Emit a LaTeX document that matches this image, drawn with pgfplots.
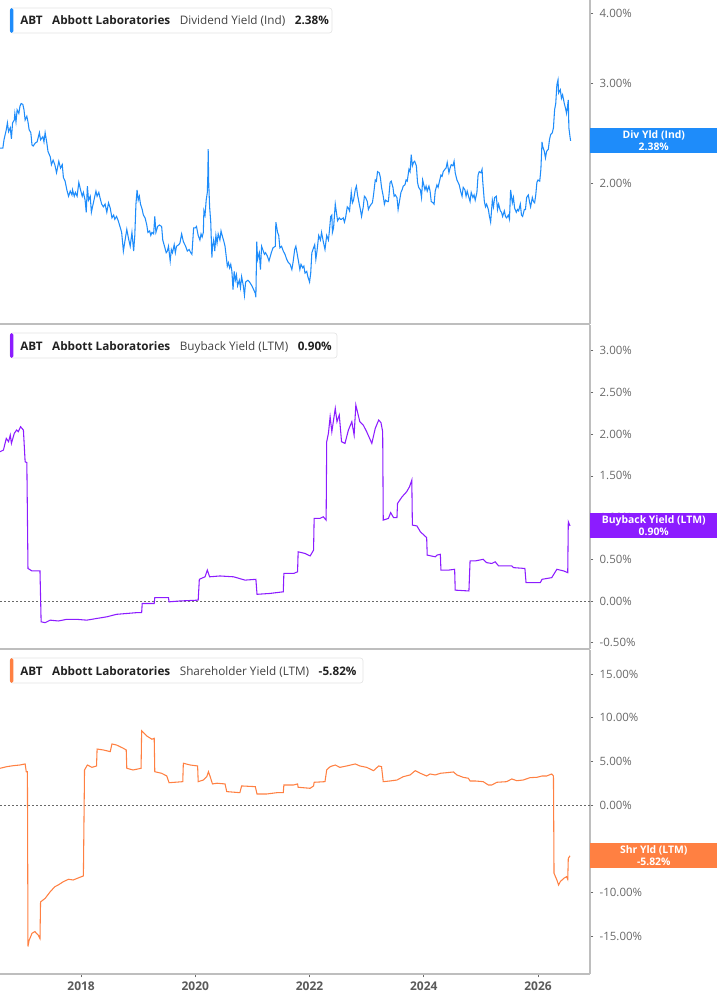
\documentclass[border=0pt]{standalone}
\usepackage{fontspec}
\setmainfont{Open Sans}
\usepackage{pgfplots}
\usepackage{pgfplotstable}
\pgfplotsset{compat=1.18}

\definecolor{axgray}{RGB}{190,190,190}
\definecolor{tickgray}{RGB}{105,105,105}
\definecolor{yeargray}{RGB}{90,90,90}
\definecolor{divblue}{RGB}{30,140,250}
\definecolor{bbpurple}{RGB}{140,28,255}
\definecolor{shorange}{RGB}{255,128,66}
\definecolor{txtdark}{RGB}{34,34,34}
\definecolor{boxgray}{RGB}{228,228,228}

% dividend yield (Ind), %
\pgfplotstableread{
year yld
2016.58 2.31
2016.63 2.31
2016.65 2.39
2016.69 2.49
2016.71 2.56
2016.73 2.47
2016.76 2.51
2016.78 2.40
2016.80 2.56
2016.83 2.59
2016.84 2.66
2016.86 2.57
2016.88 2.70
2016.91 2.66
2016.93 2.74
2016.95 2.77
2016.98 2.76
2017.00 2.70
2017.02 2.59
2017.05 2.63
2017.07 2.57
2017.09 2.49
2017.12 2.46
2017.14 2.34
2017.16 2.33
2017.20 2.36
2017.23 2.37
2017.27 2.46
2017.29 2.39
2017.33 2.42
2017.35 2.37
2017.37 2.46
2017.40 2.36
2017.42 2.28
2017.46 2.23
2017.48 2.16
2017.51 2.20
2017.54 2.16
2017.57 2.09
2017.61 2.19
2017.64 2.13
2017.67 2.16
2017.69 2.05
2017.72 2.02
2017.75 1.95
2017.78 1.90
2017.81 1.94
2017.84 1.91
2017.85 1.95
2017.88 1.90
2017.90 1.93
2017.93 1.90
2017.96 2.01
2017.99 1.95
2018.02 1.90
2018.04 1.93
2018.07 1.87
2018.09 1.78
2018.11 1.98
2018.13 1.87
2018.16 1.90
2018.18 1.78
2018.20 1.82
2018.24 1.90
2018.26 1.94
2018.28 1.90
2018.31 1.93
2018.33 1.89
2018.36 1.84
2018.39 1.82
2018.42 1.84
2018.45 1.78
2018.48 1.85
2018.51 1.81
2018.54 1.74
2018.57 1.76
2018.59 1.73
2018.62 1.75
2018.65 1.72
2018.68 1.68
2018.71 1.64
2018.74 1.52
2018.77 1.59
2018.80 1.66
2018.83 1.60
2018.86 1.55
2018.89 1.64
2018.92 1.52
2018.94 1.62
2018.96 1.84
2018.98 1.95
2019.00 1.87
2019.02 1.90
2019.04 1.84
2019.07 1.80
2019.09 1.76
2019.12 1.74
2019.15 1.69
2019.17 1.64
2019.20 1.65
2019.22 1.62
2019.24 1.64
2019.27 1.63
2019.29 1.75
2019.31 1.64
2019.34 1.68
2019.37 1.69
2019.41 1.68
2019.43 1.59
2019.46 1.55
2019.49 1.51
2019.51 1.52
2019.53 1.55
2019.56 1.46
2019.58 1.53
2019.60 1.51
2019.63 1.56
2019.65 1.51
2019.67 1.55
2019.71 1.56
2019.73 1.57
2019.76 1.63
2019.79 1.58
2019.83 1.55
2019.86 1.52
2019.89 1.53
2019.92 1.51
2019.94 1.50
2019.97 1.67
2020.00 1.67
2020.02 1.68
2020.05 1.62
2020.08 1.59
2020.10 1.63
2020.12 1.61
2020.14 1.64
2020.15 1.79
2020.17 1.76
2020.19 1.87
2020.21 1.93
2020.22 2.09
2020.225 2.30
2020.234 2.01
2020.25 1.82
2020.27 1.71
2020.29 1.48
2020.30 1.55
2020.32 1.59
2020.34 1.52
2020.36 1.62
2020.38 1.57
2020.40 1.63
2020.43 1.59
2020.45 1.65
2020.47 1.62
2020.50 1.58
2020.52 1.55
2020.54 1.49
2020.56 1.43
2020.58 1.45
2020.60 1.42
2020.62 1.44
2020.64 1.40
2020.66 1.30
2020.68 1.40
2020.70 1.35
2020.72 1.38
2020.74 1.32
2020.77 1.35
2020.79 1.31
2020.81 1.37
2020.84 1.32
2020.86 1.27
2020.88 1.34
2020.92 1.35
2020.95 1.34
2020.99 1.32
2021.02 1.30
2021.05 1.28
2021.06 1.26
2021.075 1.58
2021.09 1.47
2021.12 1.51
2021.14 1.41
2021.16 1.55
2021.19 1.52
2021.21 1.50
2021.23 1.51
2021.26 1.49
2021.29 1.46
2021.33 1.51
2021.36 1.54
2021.40 1.55
2021.41 1.71
2021.44 1.64
2021.46 1.62
2021.48 1.54
2021.51 1.55
2021.54 1.52
2021.57 1.50
2021.60 1.47
2021.63 1.45
2021.66 1.44
2021.69 1.41
2021.71 1.45
2021.74 1.53
2021.76 1.55
2021.78 1.51
2021.81 1.45
2021.83 1.41
2021.85 1.44
2021.88 1.42
2021.90 1.43
2021.92 1.39
2021.95 1.40
2021.97 1.37
2022.00 1.34
2022.02 1.39
2022.04 1.51
2022.06 1.53
2022.09 1.56
2022.11 1.47
2022.13 1.52
2022.16 1.62
2022.19 1.59
2022.21 1.64
2022.24 1.58
2022.27 1.53
2022.30 1.62
2022.33 1.59
2022.35 1.66
2022.37 1.75
2022.39 1.76
2022.40 1.64
2022.42 1.67
2022.45 1.84
2022.47 1.78
2022.49 1.72
2022.52 1.74
2022.54 1.73
2022.56 1.73
2022.59 1.74
2022.61 1.71
2022.63 1.74
2022.66 1.82
2022.68 1.81
2022.70 1.79
2022.73 1.93
2022.75 1.85
2022.77 1.87
2022.80 1.95
2022.82 1.98
2022.84 1.91
2022.87 1.84
2022.89 1.80
2022.91 1.75
2022.94 1.82
2022.96 1.90
2022.98 1.89
2023.01 1.86
2023.03 1.80
2023.05 1.82
2023.08 1.84
2023.10 1.85
2023.12 1.91
2023.15 2.03
2023.17 2.02
2023.19 2.10
2023.22 2.09
2023.24 2.05
2023.26 1.97
2023.29 1.90
2023.31 1.84
2023.33 1.87
2023.36 1.86
2023.38 1.86
2023.41 2.01
2023.43 2.02
2023.46 1.97
2023.48 1.90
2023.50 1.91
2023.53 1.89
2023.55 1.80
2023.57 1.85
2023.60 1.93
2023.62 1.95
2023.64 1.98
2023.67 1.99
2023.69 2.03
2023.71 2.02
2023.74 2.12
2023.76 2.10
2023.78 2.25
2023.80 2.15
2023.82 2.18
2023.84 2.19
2023.87 2.15
2023.89 2.01
2023.91 1.97
2023.94 1.95
2023.96 1.89
2023.98 2.03
2023.99 2.01
2024.02 1.95
2024.04 1.98
2024.06 1.94
2024.09 1.98
2024.11 1.94
2024.13 1.86
2024.16 1.85
2024.18 1.84
2024.20 1.94
2024.23 1.99
2024.25 1.97
2024.27 2.01
2024.30 2.07
2024.32 2.06
2024.34 2.10
2024.37 2.12
2024.39 2.13
2024.41 2.18
2024.44 2.09
2024.46 2.13
2024.48 2.16
2024.51 2.15
2024.53 2.19
2024.55 2.09
2024.58 2.03
2024.60 2.01
2024.62 1.99
2024.65 1.93
2024.67 1.90
2024.69 1.97
2024.72 1.95
2024.74 1.90
2024.76 1.94
2024.79 1.89
2024.81 1.86
2024.83 1.93
2024.86 1.89
2024.88 1.91
2024.90 1.87
2024.93 1.93
2024.95 2.07
2024.97 2.10
2025.00 2.09
2025.02 2.12
2025.03 2.03
2025.06 1.86
2025.08 1.82
2025.10 1.84
2025.13 1.80
2025.15 1.75
2025.17 1.71
2025.20 1.87
2025.22 1.82
2025.24 1.89
2025.27 1.90
2025.29 1.80
2025.31 1.84
2025.34 1.79
2025.36 1.78
2025.38 1.75
2025.41 1.79
2025.43 1.75
2025.45 1.74
2025.48 1.76
2025.50 1.73
2025.52 1.95
2025.55 1.85
2025.57 1.89
2025.59 1.81
2025.62 1.78
2025.64 1.80
2025.66 1.79
2025.69 1.84
2025.71 1.76
2025.73 1.75
2025.76 1.80
2025.78 1.80
2025.80 1.89
2025.83 1.91
2025.85 1.86
2025.87 1.82
2025.90 1.89
2025.92 1.86
2025.94 1.85
2025.96 1.91
2025.98 2.01
2026.00 2.03
2026.03 2.02
2026.05 2.12
2026.07 2.37
2026.08 2.33
2026.11 2.28
2026.13 2.22
2026.15 2.28
2026.18 2.30
2026.20 2.39
2026.22 2.44
2026.25 2.46
2026.27 2.51
2026.29 2.70
2026.31 2.77
2026.33 2.99
2026.35 3.05
2026.36 2.89
2026.39 2.93
2026.41 2.83
2026.43 2.87
2026.46 2.77
2026.48 2.72
2026.50 2.66
2026.53 2.81
2026.54 2.51
2026.56 2.42
2026.57 2.38
}\divtable

% buyback yield (LTM), %
\pgfplotstableread{
year yld
2016.58 1.79
2016.64 1.81
2016.69 1.95
2016.73 1.91
2016.76 1.99
2016.78 1.89
2016.83 2.01
2016.87 2.05
2016.90 2.03
2016.94 2.09
2016.99 2.05
2017.02 1.67
2017.05 1.66
2017.07 0.39
2017.14 0.36
2017.28 0.36
2017.30 -0.25
2017.37 -0.26
2017.46 -0.23
2017.60 -0.24
2017.75 -0.22
2017.92 -0.22
2018.10 -0.23
2018.27 -0.21
2018.45 -0.19
2018.62 -0.16
2018.80 -0.15
2018.97 -0.14
2019.06 -0.14
2019.07 -0.03
2019.28 -0.03
2019.29 0.04
2019.53 0.04
2019.54 -0.01
2019.73 0.00
2020.05 0.01
2020.07 0.26
2020.17 0.29
2020.21 0.37
2020.25 0.29
2020.43 0.30
2020.67 0.29
2020.87 0.25
2021.06 0.26
2021.08 0.08
2021.30 0.09
2021.54 0.11
2021.55 0.33
2021.72 0.33
2021.79 0.35
2021.80 0.59
2021.92 0.57
2022.01 0.54
2022.07 0.61
2022.08 0.99
2022.18 0.99
2022.24 1.01
2022.29 0.97
2022.30 1.91
2022.33 2.01
2022.36 2.21
2022.39 2.03
2022.45 2.31
2022.48 2.15
2022.52 2.23
2022.56 1.91
2022.62 1.89
2022.68 2.05
2022.74 2.15
2022.78 1.99
2022.81 2.35
2022.88 2.15
2022.94 2.11
2023.00 2.03
2023.09 1.89
2023.15 2.07
2023.21 2.17
2023.25 2.14
2023.28 2.03
2023.29 0.97
2023.38 0.99
2023.42 1.06
2023.47 1.00
2023.53 1.00
2023.54 1.17
2023.62 1.25
2023.70 1.31
2023.75 1.37
2023.79 1.45
2023.80 0.91
2023.88 0.90
2023.94 0.83
2024.05 0.76
2024.06 0.55
2024.20 0.53
2024.23 0.55
2024.29 0.56
2024.30 0.37
2024.43 0.37
2024.54 0.38
2024.55 0.13
2024.79 0.12
2024.81 0.48
2024.90 0.48
2025.04 0.50
2025.10 0.46
2025.19 0.45
2025.25 0.47
2025.31 0.42
2025.54 0.42
2025.57 0.40
2025.77 0.39
2025.79 0.22
2026.04 0.22
2026.07 0.26
2026.24 0.28
2026.33 0.38
2026.45 0.36
2026.52 0.34
2026.53 0.95
2026.56 0.90
}\bbtable

% shareholder yield (LTM), %
\pgfplotstableread{
year yld
2016.58 4.20
2016.70 4.39
2016.81 4.50
2016.93 4.58
2017.02 4.70
2017.04 3.81
2017.06 3.81
2017.07 -16.2
2017.09 -15.5
2017.14 -14.7
2017.19 -14.5
2017.25 -14.9
2017.28 -15.3
2017.29 -11.1
2017.37 -10.7
2017.46 -9.93
2017.54 -9.36
2017.60 -9.16
2017.69 -8.78
2017.78 -8.51
2017.86 -8.59
2017.98 -8.28
2018.04 -8.13
2018.06 4.01
2018.11 4.58
2018.19 4.31
2018.27 4.47
2018.28 6.41
2018.39 6.30
2018.51 6.11
2018.54 6.99
2018.62 6.87
2018.74 6.49
2018.79 6.30
2018.80 4.20
2018.91 4.01
2019.05 4.20
2019.06 8.51
2019.15 7.90
2019.24 7.53
2019.28 7.64
2019.29 3.81
2019.41 3.63
2019.50 3.32
2019.54 2.55
2019.78 2.67
2019.79 4.78
2019.91 4.58
2020.04 4.47
2020.05 2.67
2020.14 2.86
2020.20 3.24
2020.23 3.81
2020.26 3.24
2020.30 2.41
2020.38 2.49
2020.52 2.41
2020.55 1.53
2020.78 1.41
2020.81 2.18
2021.05 2.10
2021.08 1.26
2021.25 1.26
2021.43 1.41
2021.54 1.41
2021.55 2.29
2021.72 2.29
2021.79 2.41
2021.80 2.03
2022.01 1.91
2022.07 2.18
2022.08 2.60
2022.27 2.67
2022.30 4.01
2022.36 4.39
2022.45 4.58
2022.53 4.31
2022.65 4.47
2022.80 4.70
2022.88 4.47
2023.00 4.31
2023.12 3.93
2023.21 4.47
2023.26 4.39
2023.29 2.67
2023.41 2.75
2023.53 2.86
2023.64 3.24
2023.76 3.44
2023.85 3.93
2023.94 3.63
2024.05 3.32
2024.11 3.55
2024.20 3.44
2024.29 3.63
2024.40 3.70
2024.52 3.78
2024.58 3.44
2024.69 3.17
2024.78 3.06
2024.81 2.75
2024.90 2.75
2025.04 2.67
2025.13 2.29
2025.19 2.29
2025.28 2.60
2025.45 2.67
2025.54 2.98
2025.63 2.78
2025.74 2.86
2025.86 3.13
2025.98 3.17
2026.07 3.32
2026.15 3.32
2026.24 3.55
2026.27 3.32
2026.28 -7.82
2026.33 -8.59
2026.36 -9.16
2026.39 -8.78
2026.45 -8.40
2026.50 -8.21
2026.52 -8.51
2026.53 -6.11
2026.56 -5.82
}\shtable

\pgfplotsset{
  panel/.style={
    scale only axis, width=442.5pt, height=243pt,
    anchor=north west,
    xmin=2016.58, xmax=2026.91,
    axis x line*=bottom, axis y line*=right,
    axis line style={-, axgray, line width=1pt},
    xtick=\empty,
    tick align=outside,
    major tick length=2.5pt,
    tick style={tickgray, line width=0.6pt},
    yticklabel style={font=\fontsize{8.6}{10}\selectfont, text=tickgray, xshift=1.2pt},
    /pgf/number format/assume math mode=true,
  },
  zeroline/.style={tickgray, line width=0.6pt, dash pattern=on 1.5pt off 1.5pt},
}

\begin{document}
\begin{tikzpicture}
\useasboundingbox (0,0) rectangle (537.75pt,-753.75pt);

% ---- dividend yield (log scale)
\begin{axis}[panel, at={(0,0)},
    ymode=log, ymin=1.13, ymax=4.22,
    ytick={2,3,4}, yticklabels={2.00\%,3.00\%,4.00\%},
]
\addplot[divblue, line width=0.8pt] table[x=year, y=yld] {\divtable};
\coordinate (e1) at (rel axis cs:1,0);
\coordinate (v1) at (axis cs:2026.57,2.38);
\end{axis}

% ---- buyback yield
\begin{axis}[panel, at={(0,-243.75pt)},
    ymin=-0.576, ymax=3.31,
    ytick={-0.5,0,0.5,1,1.5,2,2.5,3},
    yticklabels={-0.50\%,0.00\%,0.50\%,1.00\%,1.50\%,2.00\%,2.50\%,3.00\%},
]
\addplot[zeroline] coordinates {(2016.58,0) (2026.91,0)};
\addplot[bbpurple, line width=0.8pt] table[x=year, y=yld] {\bbtable};
\coordinate (e2) at (rel axis cs:1,0);
\coordinate (v2) at (axis cs:2026.56,0.90);
\end{axis}

% ---- shareholder yield
\begin{axis}[panel, at={(0,-487.5pt)},
    ymin=-19.36, ymax=17.75,
    ytick={-15,-10,-5,0,5,10,15},
    yticklabels={-15.00\%,-10.00\%,-5.00\%,0.00\%,5.00\%,10.00\%,15.00\%},
    xtick={2018,2020,2022,2024,2026},
    xticklabels={2018,2020,2022,2024,2026},
    xticklabel style={font=\bfseries\fontsize{9}{10}\selectfont, text=yeargray},
]
\addplot[zeroline] coordinates {(2016.58,0) (2026.91,0)};
\addplot[shorange, line width=0.8pt] table[x=year, y=yld] {\shtable};
\coordinate (e3) at (rel axis cs:1,0);
\coordinate (v3) at (axis cs:2026.56,-5.82);
\end{axis}

% ---- value tags on the right axis
\tikzset{tag/.style={anchor=west, inner sep=0pt, minimum width=95.25pt, minimum height=18.75pt,
  text=white, align=center, font=\bfseries\fontsize{7.8}{8.8}\selectfont}}
\node[tag, fill=divblue] at (e1 |- v1) {Div Yld (Ind)\\2.38\%};
\node[tag, fill=bbpurple] at (e2 |- v2) {Buyback Yield (LTM)\\0.90\%};
\node[tag, fill=shorange] at (e3 |- v3) {Shr Yld (LTM)\\-5.82\%};

% ---- header boxes, in pixels from the top left
\begin{scope}[x=0.75pt, y=-0.75pt,
  lb/.style={anchor=base west, inner sep=0pt, text=txtdark, font=\bfseries\fontsize{8.8}{10}\selectfont},
  ln/.style={anchor=base west, inner sep=0pt, text=txtdark!85, font=\fontsize{8.8}{10}\selectfont}]
  \foreach \top/\right/\col/\metric/\val in {
      8/332/divblue/Dividend Yield (Ind)/2.38\%,
      333/337/bbpurple/Buyback Yield (LTM)/0.90\%,
      658/363/shorange/Shareholder Yield (LTM)/-5.82\%} {
    \draw[boxgray, fill=white, line width=0.5pt, rounded corners=2pt] (10,\top) rectangle (\right,\top+25);
    \fill[\col, rounded corners=1.2pt] (10,\top) rectangle (13.3,\top+25);
    \node[lb] (a) at (20,\top+17) {ABT};
    \node[lb] (b) at ([xshift=6.75pt]a.base east) {Abbott Laboratories};
    \node[ln] (c) at ([xshift=6.75pt]b.base east) {\metric};
    \node[lb] at ([xshift=6.75pt]c.base east) {\val};
  }
\end{scope}
\end{tikzpicture}
\end{document}
